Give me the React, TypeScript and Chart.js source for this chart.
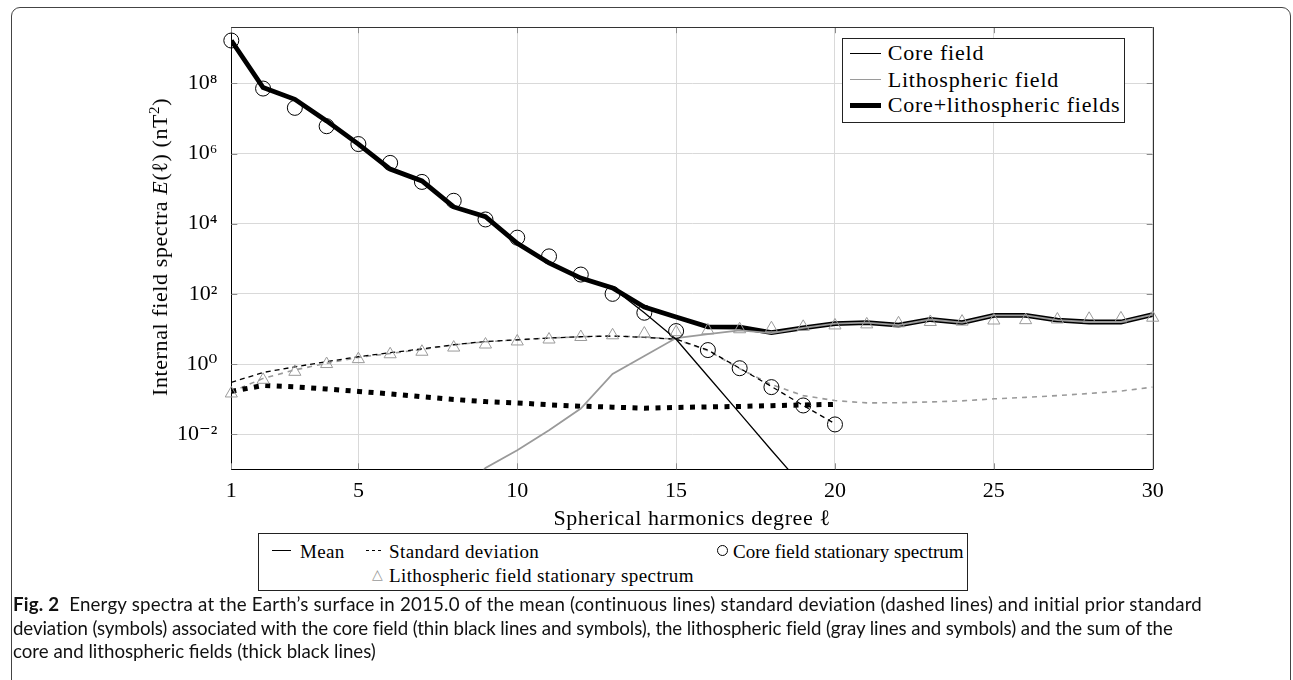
import React, { useEffect, useRef } from 'react';
import { Chart, registerables } from 'chart.js';

Chart.register(...registerables);

// ---------------- data ----------------
const degrees = [1, 2, 3, 4, 5, 6, 7, 8, 9, 10, 11, 12, 13, 14, 15, 16, 17, 18, 19, 20, 21, 22, 23, 24, 25, 26, 27, 28, 29, 30];
const xTicks = [1, 5, 10, 15, 20, 25, 30];
const yTickValues = [1e-2, 1, 1e2, 1e4, 1e6, 1e8];
const yTickLabels = ['10⁻²', '10⁰', '10²', '10⁴', '10⁶', '10⁸'];
const yMin = 1e-3;
const yMax = 3.98e9;

// Mean spectra (continuous lines)
const coreMean = [1.66e9, 7.6e7, 3.5e7, 8.5e6, 1.86e6, 3.6e5, 1.66e5, 3.0e4, 1.58e4, 2.75e3, 760, 282, 148, 29, 5.1, 0.45, 0.04, 3.5e-3, 3.2e-4];
const lithoMean = [null, null, null, null, null, null, null, 1e-4, 1.1e-3, 3.5e-3, 0.013, 0.054, 0.52, 1.7, 5.5, 7.1, 9.1, 7.6, 10.7, 14.1, 15.1, 12.9, 18.6, 15.1, 24.5, 24.5, 17.8, 15.8, 15.8, 25.7];
const totalMean = [1.66e9, 7.6e7, 3.5e7, 8.5e6, 1.86e6, 3.6e5, 1.66e5, 3.0e4, 1.58e4, 2.75e3, 760, 282, 148, 42, 22, 11.5, 11.2, 7.9, 10.7, 14.1, 15.1, 12.9, 18.6, 15.1, 24.5, 24.5, 17.8, 15.8, 15.8, 25.7];

// Standard deviations (dashed lines)
const coreStd = [0.30, 0.575, 0.83, 1.17, 1.62, 2.1, 2.7, 3.55, 4.4, 4.9, 5.5, 6.0, 6.3, 5.75, 5.1, 2.5, 0.76, 0.23, 0.066, 0.020];
const lithoStd = [0.16, 0.39, 0.68, 1.05, 1.55, 2.0, 2.6, 3.5, 4.3, 4.9, 5.5, 6.0, 6.3, 5.9, 5.1, 2.4, 0.74, 0.26, 0.126, 0.091, 0.078, 0.079, 0.083, 0.089, 0.102, 0.112, 0.126, 0.145, 0.17, 0.22];
const totalStd = [0.166, 0.245, 0.224, 0.195, 0.166, 0.141, 0.117, 0.098, 0.085, 0.078, 0.069, 0.063, 0.059, 0.055, 0.058, 0.060, 0.062, 0.065, 0.068, 0.071];

// Stationary (prior) spectra (symbols)
const corePrior = [1.66e9, 7.1e7, 2.0e7, 6.0e6, 1.86e6, 5.4e5, 1.55e5, 4.5e4, 1.32e4, 4.0e3, 1.17e3, 355, 100, 29, 8.7, 2.5, 0.76, 0.22, 0.066, 0.019];
const lithoPrior = [0.145, 0.355, 0.60, 1.0, 1.38, 1.9, 2.24, 2.95, 3.6, 4.4, 5.0, 5.9, 6.6, 7.4, 8.1, 9.1, 9.8, 10.5, 11.5, 12.6, 13.5, 14.5, 15.8, 16.2, 17.4, 17.8, 18.6, 19.5, 20, 20.9];

// ---------------- layout ----------------
const W = 1293;
const H = 680;
const PLOT = { left: 231.3, top: 24, right: 1152.7, bottom: 469.3 };
const Y_AXIS_W = 80;
const X_AXIS_H = 40;
const SERIF = "'Liberation Serif', 'DejaVu Serif', serif";
const GRAY = '#9a9a9a';

function toPoints(values: (number | null)[]) {
  const out: { x: number; y: number }[] = [];
  values.forEach((v, i) => {
    if (v !== null && v !== undefined) out.push({ x: degrees[i], y: v });
  });
  return out;
}

const frameTicks = {
  id: 'frameTicks',
  beforeDatasetsDraw(chart: any) {
    const { ctx, chartArea: a, scales } = chart;
    ctx.save();
    ctx.strokeStyle = '#8c8c8c';
    ctx.lineWidth = 1;
    ctx.beginPath();
    xTicks.forEach((v) => {
      const px = Math.round(scales.x.getPixelForValue(v)) + 0.5;
      ctx.moveTo(px, a.bottom);
      ctx.lineTo(px, a.bottom - 6);
      ctx.moveTo(px, a.top);
      ctx.lineTo(px, a.top + 6);
    });
    yTickValues.forEach((v) => {
      const py = Math.round(scales.y.getPixelForValue(v)) + 0.5;
      ctx.moveTo(a.left, py);
      ctx.lineTo(a.left + 6, py);
      ctx.moveTo(a.right, py);
      ctx.lineTo(a.right - 6, py);
    });
    ctx.stroke();
    ctx.strokeStyle = '#333';
    ctx.beginPath();
    ctx.moveTo(a.left, Math.round(a.top) + 0.5);
    ctx.lineTo(a.right, Math.round(a.top) + 0.5);
    ctx.moveTo(Math.round(a.right) + 0.5, a.top);
    ctx.lineTo(Math.round(a.right) + 0.5, a.bottom);
    ctx.stroke();
    ctx.restore();
  },
};

function Txt(props: { left: number; cy: number; size?: number; spacing?: number; color?: string; children: any }) {
  return (
    <div
      style={{
        position: 'absolute',
        left: props.left,
        top: props.cy,
        transform: 'translateY(-50%)',
        fontFamily: SERIF,
        fontSize: props.size ?? 22,
        letterSpacing: props.spacing ?? 0.8,
        lineHeight: 1,
        whiteSpace: 'nowrap',
        color: props.color ?? '#000',
      }}
    >
      {props.children}
    </div>
  );
}

function LineSample(props: { left: number; cy: number; width: number; thick: number; color: string; dashed?: boolean }) {
  return (
    <div
      style={{
        position: 'absolute',
        left: props.left,
        top: props.cy - props.thick / 2,
        width: props.width,
        height: props.thick,
        background: props.dashed
          ? `repeating-linear-gradient(to right, ${props.color} 0 3.5px, transparent 3.5px 6px)`
          : props.color,
      }}
    />
  );
}

export default function App() {
  const ref = useRef<HTMLCanvasElement | null>(null);

  useEffect(() => {
    if (!ref.current) return;
    const tickFont = { family: SERIF, size: 22 };
    const chart = new Chart(ref.current, {
      type: 'line',
      data: {
        datasets: [
          {
            label: 'Core field stationary spectrum',
            data: toPoints(corePrior),
            showLine: false,
            pointStyle: 'circle',
            pointRadius: 7.5,
            pointBorderColor: '#000',
            pointBackgroundColor: 'rgba(0,0,0,0)',
            pointBorderWidth: 1,
            clip: false,
            order: 0,
          },
          {
            label: 'Lithospheric field stationary spectrum',
            data: toPoints(lithoPrior),
            showLine: false,
            pointStyle: 'triangle',
            pointRadius: 7,
            pointBorderColor: GRAY,
            pointBackgroundColor: 'rgba(0,0,0,0)',
            pointBorderWidth: 1,
            clip: false,
            order: 1,
          },
          {
            label: 'Core field mean',
            data: toPoints(coreMean),
            borderColor: '#000',
            borderWidth: 1.3,
            pointRadius: 0,
            tension: 0,
            order: 2,
          },
          {
            label: 'Lithospheric field mean',
            data: toPoints(lithoMean),
            borderColor: GRAY,
            borderWidth: 1.8,
            pointRadius: 0,
            tension: 0,
            order: 3,
          },
          {
            label: 'Core+lithospheric mean',
            data: toPoints(totalMean),
            borderColor: '#000',
            borderWidth: 4.8,
            pointRadius: 0,
            tension: 0,
            borderJoinStyle: 'miter',
            order: 4,
          },
          {
            label: 'Core+lithospheric standard deviation',
            data: toPoints(totalStd),
            borderColor: '#000',
            borderWidth: 5,
            borderDash: [5, 6.5],
            borderCapStyle: 'butt',
            pointRadius: 0,
            tension: 0,
            order: 5,
          },
          {
            label: 'Core field standard deviation',
            data: toPoints(coreStd),
            borderColor: '#000',
            borderWidth: 1.3,
            borderDash: [5, 4],
            pointRadius: 0,
            tension: 0,
            order: 6,
          },
          {
            label: 'Lithospheric field standard deviation',
            data: toPoints(lithoStd),
            borderColor: GRAY,
            borderWidth: 1.6,
            borderDash: [5, 5],
            pointRadius: 0,
            tension: 0,
            order: 7,
          },
        ] as any,
      },
      options: {
        responsive: false,
        devicePixelRatio: 1,
        animation: false,
        events: [],
        layout: {
          padding: {
            left: PLOT.left - Y_AXIS_W,
            top: PLOT.top,
            right: W - PLOT.right,
            bottom: H - PLOT.bottom - X_AXIS_H,
          },
        },
        plugins: {
          legend: { display: false },
          tooltip: { enabled: false },
        },
        scales: {
          x: {
            type: 'linear',
            min: 1,
            max: 30,
            afterBuildTicks: (s: any) => {
              s.ticks = xTicks.map((v) => ({ value: v }));
            },
            afterFit: (s: any) => {
              s.height = X_AXIS_H;
            },
            ticks: {
              font: tickFont,
              color: '#000',
              padding: 9,
              maxRotation: 0,
              autoSkip: false,
              callback: (v: any) => String(v),
            },
            grid: { color: '#d9d9d9', lineWidth: 1, drawTicks: false },
            border: { color: '#000', width: 1 },
          },
          y: {
            type: 'logarithmic',
            min: yMin,
            max: yMax,
            afterBuildTicks: (s: any) => {
              s.ticks = yTickValues.map((v) => ({ value: v }));
            },
            afterFit: (s: any) => {
              s.width = Y_AXIS_W;
            },
            ticks: {
              font: tickFont,
              color: '#000',
              padding: 14,
              autoSkip: false,
              callback: (v: any) => {
                const i = yTickValues.indexOf(Number(v));
                return i >= 0 ? yTickLabels[i] : '';
              },
            },
            grid: { color: '#d9d9d9', lineWidth: 1, drawTicks: false },
            border: { color: '#000', width: 1 },
          },
        },
      } as any,
      plugins: [frameTicks],
    });
    return () => chart.destroy();
  }, []);

  const captionStyle: React.CSSProperties = {
    position: 'absolute',
    left: 13,
    fontFamily: "Lato, 'Open Sans', sans-serif",
    fontSize: 18.7,
    lineHeight: 1,
    whiteSpace: 'nowrap',
    color: '#111',
    transform: 'translateY(-50%)',
  };

  const LEG = 19;

  return (
    <div style={{ position: 'absolute', left: 0, top: 0, width: W, height: H, overflow: 'hidden', background: '#fff' }}>
      {/* outer frame */}
      <div
        style={{
          position: 'absolute',
          left: 11,
          top: 7,
          width: 1280,
          height: 720,
          border: '1.3px solid #444',
          borderRadius: 9,
          boxSizing: 'border-box',
        }}
      />
      <canvas ref={ref} width={W} height={H} style={{ position: 'absolute', left: 0, top: 0, width: W, height: H }} />

      {/* y axis title */}
      <div
        style={{
          position: 'absolute',
          left: 160,
          top: 246.7,
          transform: 'translate(-50%, -50%) rotate(-90deg)',
          fontFamily: SERIF,
          fontSize: 22,
          letterSpacing: 0.6,
          whiteSpace: 'nowrap',
          lineHeight: 1,
        }}
      >
        Internal field spectra <i>E</i>(ℓ) (nT<sup style={{ fontSize: 15, lineHeight: 0 }}>2</sup>)
      </div>

      {/* x axis title */}
      <div
        style={{
          position: 'absolute',
          left: 692,
          top: 518,
          transform: 'translate(-50%, -50%)',
          fontFamily: SERIF,
          fontSize: 22,
          letterSpacing: 0.6,
          whiteSpace: 'nowrap',
          lineHeight: 1,
        }}
      >
        Spherical harmonics degree ℓ
      </div>

      {/* top-right legend */}
      <div
        style={{
          position: 'absolute',
          left: 841.7,
          top: 37.7,
          width: 283.3,
          height: 85,
          border: '1px solid #222',
          background: '#fff',
          boxSizing: 'border-box',
        }}
      />
      <LineSample left={849.5} cy={53.3} width={31.5} thick={1.3} color="#000" />
      <Txt left={887.7} cy={53.3}>Core field</Txt>
      <LineSample left={849.5} cy={79.5} width={31.5} thick={1.8} color={GRAY} />
      <Txt left={887.7} cy={79.5}>Lithospheric field</Txt>
      <LineSample left={849.5} cy={105.3} width={31.5} thick={4.5} color="#000" />
      <Txt left={887.7} cy={105.3}>Core+lithospheric fields</Txt>

      {/* bottom legend */}
      <div
        style={{
          position: 'absolute',
          left: 258.3,
          top: 533.3,
          width: 710,
          height: 57.4,
          border: '1px solid #222',
          background: '#fff',
          boxSizing: 'border-box',
        }}
      />
      <LineSample left={272} cy={550.7} width={19} thick={1.3} color="#000" />
      <Txt left={300} cy={550.7} size={LEG} spacing={0.3}>Mean</Txt>
      <LineSample left={366} cy={550.7} width={16} thick={1.3} color="#000" dashed />
      <Txt left={389} cy={550.7} size={LEG} spacing={0.4}>Standard deviation</Txt>
      <div
        style={{
          position: 'absolute',
          left: 717,
          top: 545.2,
          width: 11,
          height: 11,
          border: '1px solid #000',
          borderRadius: '50%',
          boxSizing: 'border-box',
        }}
      />
      <Txt left={733} cy={550.7} size={LEG} spacing={0}>Core field stationary spectrum</Txt>
      <Txt left={372} cy={575} size={14} spacing={0} color={GRAY}>△</Txt>
      <Txt left={389} cy={575} size={LEG} spacing={0.4}>Lithospheric field stationary spectrum</Txt>

      {/* caption */}
      <div style={{ ...captionStyle, top: 604, letterSpacing: 0.2 }}>
        <b>Fig. 2</b>&nbsp;&nbsp;Energy spectra at the Earth’s surface in 2015.0 of the mean (continuous lines) standard deviation (dashed lines) and initial prior standard
      </div>
      <div style={{ ...captionStyle, top: 628, letterSpacing: -0.1 }}>
        deviation (symbols) associated with the core field (thin black lines and symbols), the lithospheric field (gray lines and symbols) and the sum of the
      </div>
      <div style={{ ...captionStyle, top: 651 }}>core and lithospheric fields (thick black lines)</div>
    </div>
  );
}
